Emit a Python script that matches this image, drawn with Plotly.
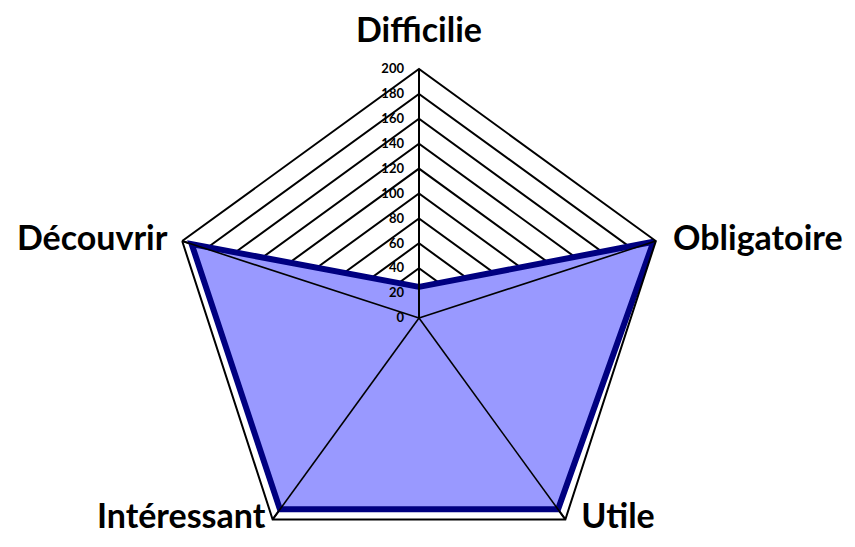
import plotly.graph_objects as go

categories = ["Difficilie", "Obligatoire", "Utile", "Intéressant", "Découvrir"]
values = [25, 198, 190, 190, 192]
radial_ticks = [0, 20, 40, 60, 80, 100, 120, 140, 160, 180, 200]
r_max = 200

FONT = "Lato"

label_pos = ["top center", "middle right", "middle right", "middle left", "middle left"]
label_pad = [28, 26, 24, 10, 22]

fig = go.Figure()

# data area
fig.add_trace(go.Scatterpolar(
    r=values + values[:1],
    theta=categories + categories[:1],
    mode="lines",
    fill="toself",
    fillcolor="#9999FF",
    line=dict(color="#000080", width=6),
    hoverinfo="skip",
    showlegend=False,
))

# spokes drawn above the filled area
spoke_r, spoke_t = [], []
for c in categories:
    spoke_r += [0, r_max, None]
    spoke_t += [c, c, None]
fig.add_trace(go.Scatterpolar(
    r=spoke_r, theta=spoke_t, mode="lines",
    line=dict(color="black", width=1.6),
    hoverinfo="skip", showlegend=False, connectgaps=False,
))

# category labels
fig.add_trace(go.Scatterpolar(
    r=[r_max] * len(categories),
    theta=categories,
    mode="markers+text",
    text=categories,
    textposition=label_pos,
    marker=dict(size=label_pad, opacity=0),
    textfont=dict(family=FONT, size=34, color="black", weight="bold"),
    cliponaxis=False,
    hoverinfo="skip",
    showlegend=False,
))

fig.update_layout(
    width=855, height=559,
    margin=dict(l=162, r=195, t=61, b=0),
    paper_bgcolor="white",
    plot_bgcolor="white",
    showlegend=False,
    polar=dict(
        bgcolor="white",
        gridshape="linear",
        domain=dict(x=[0, 1], y=[0, 1]),
        radialaxis=dict(
            range=[0, r_max],
            tickvals=radial_ticks,
            ticktext=[str(v) + "\u00a0\u00a0\u00a0" for v in radial_ticks],
            angle=90,
            tickangle=90,
            side="counterclockwise",
            showline=True,
            linecolor="black",
            linewidth=2,
            gridcolor="black",
            gridwidth=1.6,
            ticks="",
            layer="above traces",
            tickfont=dict(family=FONT, size=13, color="black", weight="bold"),
        ),
        angularaxis=dict(
            type="category",
            categoryarray=categories,
            direction="clockwise",
            rotation=90,
            showline=True,
            linecolor="black",
            linewidth=2,
            gridcolor="black",
            gridwidth=1.6,
            ticks="",
            showticklabels=False,
        ),
    ),
)

fig.write_html("out.html", post_script="document.body.style.overflow='hidden';")
